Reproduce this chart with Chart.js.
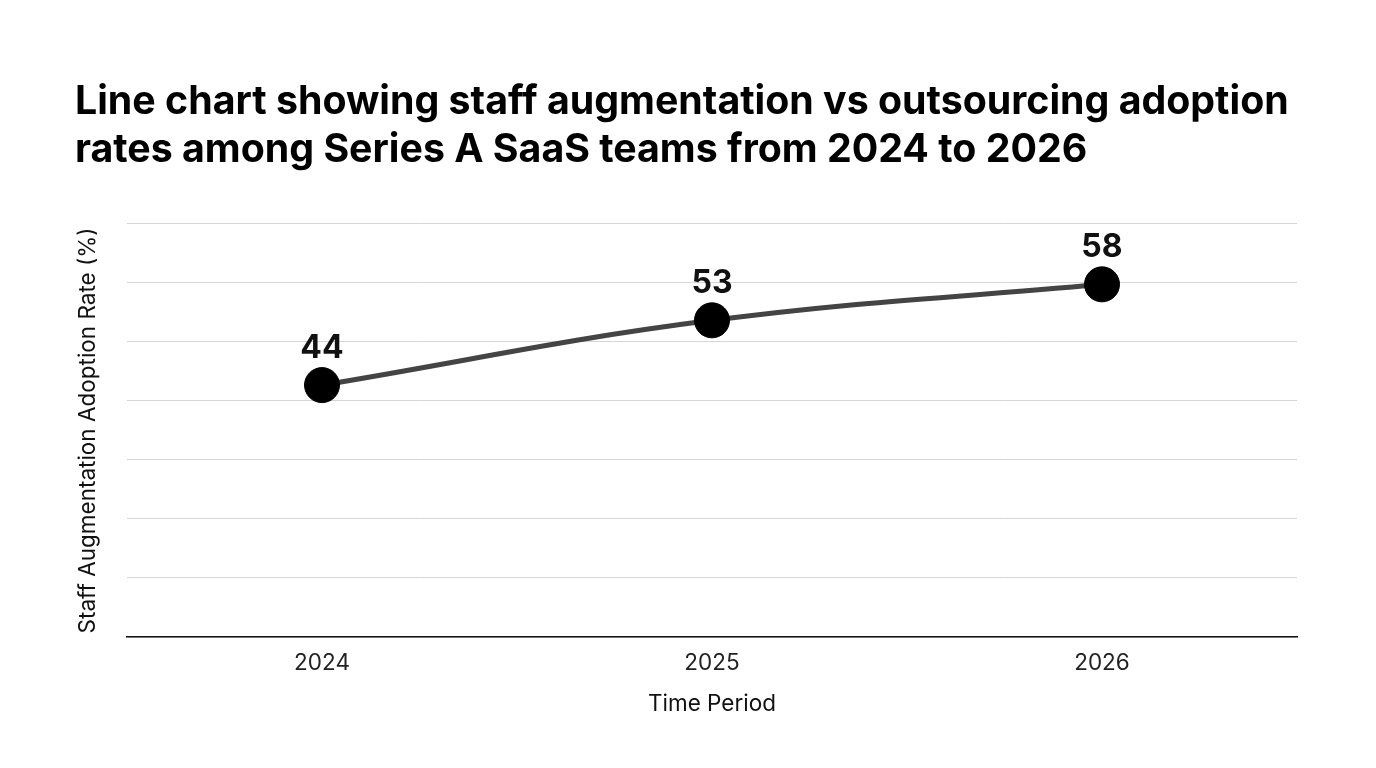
<!DOCTYPE html>
<html>
<head>
<meta charset="utf-8">
<script src="https://cdn.jsdelivr.net/npm/chart.js@4"></script>
<style>
  html, body { margin: 0; padding: 0; background: #fff; }
  #wrap { width: 1376px; height: 768px; position: relative; }
</style>
</head>
<body>
<div id="wrap"><canvas id="adoptionChart" width="1376" height="768"></canvas></div>
<script>
// 데이터
var years = ['2024', '2025', '2026'];
var staffAugRate = [44, 53, 58];
var yMin = 9, yMax = 66.4, yStep = 8.2;

var titleLines = [
  'Line chart showing staff augmentation vs outsourcing adoption',
  'rates among Series A SaaS teams from 2024 to 2026'
];

// 점 위에 값 표시
var valueLabels = {
  id: 'valueLabels',
  afterDatasetsDraw: function(chart){
    var ctx = chart.ctx;
    var meta = chart.getDatasetMeta(0);
    ctx.save();
    ctx.font = 'bold 32px Inter, "DejaVu Sans", sans-serif';
    ctx.fillStyle = '#111';
    ctx.textAlign = 'center';
    ctx.textBaseline = 'alphabetic';
    meta.data.forEach(function(pt, i){
      ctx.fillText(String(staffAugRate[i]), pt.x, pt.y - 27);
    });
    ctx.restore();
  }
};

var ctx = document.getElementById('adoptionChart');
var chart = new Chart(ctx, {
  type: 'line',
  data: {
    labels: years,
    datasets: [{
      label: 'Staff Augmentation',
      data: staffAugRate,
      borderColor: '#444',
      borderWidth: 5,
      tension: 0.4,
      pointRadius: 17.5,
      pointHoverRadius: 17.5,
      pointBackgroundColor: '#000',
      pointBorderColor: '#000',
      pointBorderWidth: 1,
      fill: false
    }]
  },
  options: {
    responsive: false,
    animation: false,
    events: [],
    layout: { padding: { left: 75, right: 79, top: 0, bottom: 50 } },
    plugins: {
      legend: { display: false },
      tooltip: { enabled: false },
      title: {
        display: true,
        text: titleLines,
        align: 'start',
        color: '#000',
        font: { family: 'Inter', size: 39.3, weight: 'bold', lineHeight: 1.22 },
        padding: { top: 78, bottom: 50 }
      }
    },
    scales: {
      x: {
        offset: true,
        grid: { display: false, drawTicks: false },
        border: { display: true, color: '#111', width: 1.5 },
        ticks: { color: '#222', padding: 13, font: { family: 'Inter', size: 22.5 } },
        title: {
          display: true,
          text: 'Time Period',
          color: '#111',
          font: { family: 'Inter', size: 22.5 },
          padding: { top: 1, bottom: 0 }
        }
      },
      y: {
        min: yMin,
        max: yMax,
        grid: { color: '#d6d6d6', lineWidth: 1, drawTicks: false },
        border: { display: false },
        ticks: { display: false, stepSize: yStep },
        title: {
          display: true,
          text: 'Staff Augmentation Adoption Rate (%)',
          color: '#111',
          font: { family: 'Inter', size: 22.5 },
          padding: { top: 0, bottom: 25 }
        }
      }
    }
  },
  plugins: [valueLabels]
});
</script>
</body>
</html>
